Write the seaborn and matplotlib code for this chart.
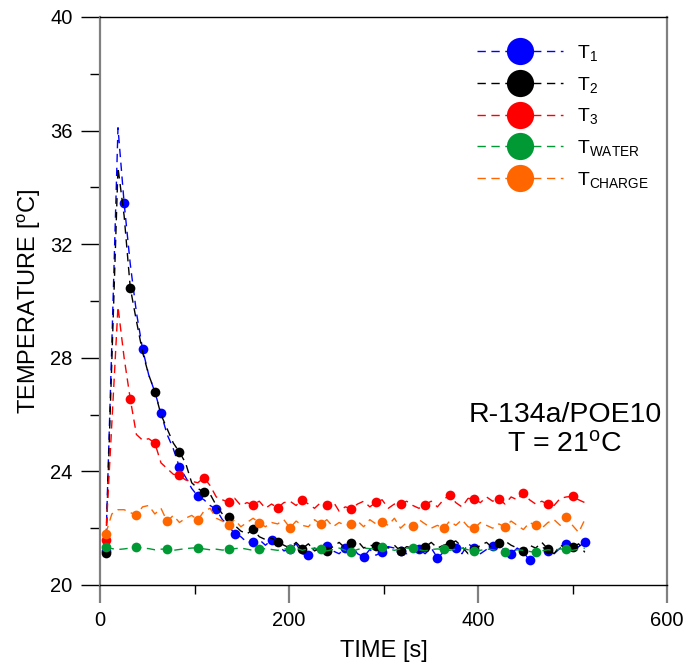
import numpy as np
import pandas as pd
import matplotlib
matplotlib.use("Agg")
import matplotlib.pyplot as plt
from matplotlib.ticker import MultipleLocator
import seaborn as sns

# ==========================================
# DATA
# ==========================================
TIME_S = [
    6.0, 12.5, 19.0, 25.5, 32.0, 38.5, 45.0, 51.5, 58.0, 64.5,
    71.0, 77.5, 84.0, 90.5, 97.0, 103.5, 110.0, 116.5, 123.0, 129.5,
    136.0, 142.5, 149.0, 155.5, 162.0, 168.5, 175.0, 181.5, 188.0, 194.5,
    201.0, 207.5, 214.0, 220.5, 227.0, 233.5, 240.0, 246.5, 253.0, 259.5,
    266.0, 272.5, 279.0, 285.5, 292.0, 298.5, 305.0, 311.5, 318.0, 324.5,
    331.0, 337.5, 344.0, 350.5, 357.0, 363.5, 370.0, 376.5, 383.0, 389.5,
    396.0, 402.5, 409.0, 415.5, 422.0, 428.5, 435.0, 441.5, 448.0, 454.5,
    461.0, 467.5, 474.0, 480.5, 487.0, 493.5, 500.0, 506.5, 513.0,
]

T1 = [
    21.20, 28.5, 36.1, 33.45, 31.3, 29.6, 28.31, 27.4, 26.8, 26.05,
    25.3, 24.8, 24.15, 23.8, 23.4, 23.13, 23.0, 22.8, 22.66, 22.3,
    22.1, 21.79, 21.7, 21.5, 21.52, 21.6, 21.4, 21.58, 21.45, 21.2,
    21.25, 21.45, 21.1, 21.04, 21.3, 21.15, 21.37, 21.2, 21.1, 21.3,
    21.4, 21.1, 20.99, 21.25, 21.05, 21.16, 21.35, 21.3, 21.2, 21.1,
    21.35, 21.26, 21.1, 21.3, 20.96, 21.15, 21.4, 21.31, 21.1, 21.45,
    21.3, 21.1, 21.25, 21.37, 21.45, 21.2, 21.09, 21.3, 21.15, 20.88,
    21.1, 21.35, 21.2, 21.1, 21.3, 21.45, 21.2, 21.35, 21.5,
]

T2 = [
    21.11, 27.9, 34.7, 33.0, 30.47, 29.3, 28.2, 27.4, 26.81, 26.0,
    25.5, 25.0, 24.68, 24.3, 23.6, 23.4, 23.26, 23.2, 22.8, 22.5,
    22.39, 22.1, 21.9, 21.8, 21.96, 21.7, 21.6, 21.65, 21.53, 21.4,
    21.3, 21.5, 21.28, 21.45, 21.2, 21.3, 21.2, 21.35, 21.5, 21.3,
    21.47, 21.55, 21.3, 21.4, 21.37, 21.5, 21.3, 21.4, 21.19, 21.35,
    21.3, 21.15, 21.33, 21.5, 21.3, 21.4, 21.46, 21.55, 21.35, 21.1,
    21.23, 21.4, 21.5, 21.3, 21.47, 21.55, 21.4, 21.3, 21.21, 21.4,
    21.3, 21.5, 21.26, 21.1, 21.4, 21.3, 21.32, 21.45, 21.15,
]

T3 = [
    21.6, 25.7, 29.8, 28.0, 26.55, 25.3, 25.1, 25.15, 25.0, 24.3,
    24.1, 23.9, 23.86, 23.7, 23.65, 23.6, 23.78, 23.5, 23.1, 23.0,
    22.91, 23.05, 22.8, 22.9, 22.82, 22.95, 22.7, 22.85, 22.72, 22.9,
    22.95, 22.8, 23.0, 22.85, 22.7, 22.9, 22.81, 22.95, 22.6, 22.75,
    22.69, 22.85, 22.95, 22.75, 22.91, 23.0, 22.7, 22.85, 22.84, 22.95,
    22.8, 22.7, 22.83, 22.95, 22.75, 23.0, 23.18, 22.9, 22.75, 23.05,
    23.03, 22.9, 23.1, 22.95, 23.04, 22.85, 23.1, 23.0, 23.25, 23.0,
    22.85, 22.95, 22.84, 22.8, 23.05, 23.1, 23.12, 23.0, 22.9,
]

T_WATER = [
    21.33, 21.28, 21.25, 21.27, 21.3, 21.34, 21.3, 21.28, 21.24, 21.26,
    21.27, 21.22, 21.25, 21.28, 21.3, 21.31, 21.27, 21.24, 21.26, 21.23,
    21.25, 21.28, 21.3, 21.26, 21.22, 21.25, 21.28, 21.25, 21.22, 21.27,
    21.25, 21.3, 21.22, 21.27, 21.3, 21.25, 21.2, 21.25, 21.3, 21.22,
    21.17, 21.25, 21.3, 21.28, 21.26, 21.32, 21.28, 21.22, 21.27, 21.3,
    21.29, 21.24, 21.2, 21.25, 21.27, 21.25, 21.22, 21.26, 21.3, 21.24,
    21.19, 21.22, 21.27, 21.24, 21.2, 21.15, 21.2, 21.24, 21.22, 21.18,
    21.15, 21.2, 21.24, 21.22, 21.27, 21.25, 21.22, 21.26, 21.3,
]

T_CHARGE = [
    21.8, 22.5, 22.65, 22.65, 22.55, 22.46, 22.75, 22.8, 22.5, 22.7,
    22.24, 22.45, 22.2, 22.35, 22.45, 22.29, 22.6, 22.7, 22.35, 22.25,
    22.1, 22.3, 22.05, 22.2, 22.35, 22.19, 22.05, 22.2, 22.15, 22.3,
    22.01, 22.25, 22.1, 22.05, 22.3, 22.13, 22.3, 22.05, 22.2, 22.1,
    22.14, 22.25, 22.05, 22.3, 22.15, 22.22, 22.1, 22.35, 22.0, 22.2,
    22.07, 22.3, 22.15, 22.0, 22.1, 21.99, 22.25, 22.1, 22.3, 22.05,
    21.99, 22.2, 22.1, 22.0, 22.15, 22.05, 22.25, 22.1, 21.95, 22.2,
    22.1, 22.0, 22.2, 22.3, 22.1, 22.39, 22.1, 21.85, 22.3,
]

SERIES_LABELS = ["T$_1$", "T$_2$", "T$_3$", "T$_{WATER}$", "T$_{CHARGE}$"]
SERIES_VALUES = [T1, T2, T3, T_WATER, T_CHARGE]
SERIES_COLORS = ["#0000ff", "#000000", "#ff0000", "#009933", "#ff6600"]
MARK_EVERY = [3, 4, 4, 5, 5]   # symbols shown on every n-th sample

# ==========================================
# STYLE
# ==========================================
sns.set_theme(style="ticks")
plt.rcParams["font.family"] = ["Liberation Sans", "DejaVu Sans"]
plt.rcParams["mathtext.fontset"] = "custom"
plt.rcParams["mathtext.rm"] = "Liberation Sans"
plt.rcParams["mathtext.it"] = "Liberation Sans"
plt.rcParams["mathtext.default"] = "regular"
for key in ["text.color", "axes.labelcolor", "xtick.labelcolor", "ytick.labelcolor"]:
    plt.rcParams[key] = "black"

fig = plt.figure(figsize=(6.87, 6.64), dpi=100)
ax = fig.add_axes([0.1456, 0.119, 0.8253, 0.8554])

for label, vals, color, me in zip(SERIES_LABELS, SERIES_VALUES, SERIES_COLORS, MARK_EVERY):
    df = pd.DataFrame({"time": TIME_S, "temp": vals})
    sns.lineplot(data=df, x="time", y="temp", ax=ax, color=color,
                 linestyle=(0, (6, 4)), linewidth=1.0,
                 marker="o", markersize=7, markeredgewidth=0,
                 markevery=me, label=label, estimator=None, sort=False)

ax.set_xlim(0, 600)
ax.set_ylim(20, 40)
ax.xaxis.set_major_locator(MultipleLocator(200))
ax.xaxis.set_minor_locator(MultipleLocator(100))
ax.yaxis.set_major_locator(MultipleLocator(4))
ax.yaxis.set_minor_locator(MultipleLocator(2))

ax.tick_params(axis="x", which="major", direction="out", length=13, width=1.6,
               color="#808080", pad=6, labelsize=14.5, labelcolor="black", bottom=True)
ax.tick_params(axis="x", which="minor", direction="out", length=6.5, width=1.0,
               color="black", bottom=True)
ax.tick_params(axis="y", which="major", direction="out", length=13.7, width=1.0,
               color="black", pad=6, labelsize=14.5, labelcolor="black", left=True)
ax.tick_params(axis="y", which="minor", direction="out", length=7, width=1.0,
               color="black", left=True)

for side in ["left", "right"]:
    ax.spines[side].set_color("#808080")
    ax.spines[side].set_linewidth(1.6)
for side in ["top", "bottom"]:
    ax.spines[side].set_color("black")
    ax.spines[side].set_linewidth(1.0)

ax.set_xlabel("TIME [s]", fontsize=17, labelpad=7, color="black")
ax.set_ylabel("TEMPERATURE [$^{o}$C]", fontsize=17, labelpad=5, color="black")

ax.text(0.82, 0.273, "R-134a/POE10\nT = 21$^{o}$C", transform=ax.transAxes,
        ha="center", va="center", fontsize=20.5, linespacing=1.2, color="black")

handles, labels = ax.get_legend_handles_labels()
leg = ax.legend(handles, labels, loc="upper left", bbox_to_anchor=(0.665, 0.954),
                frameon=False, markerscale=2.8, handlelength=4.4, handletextpad=0.75,
                labelspacing=0.6, fontsize=14, borderaxespad=0, borderpad=0)
for txt in leg.get_texts():
    txt.set_color("black")

fig.savefig("out.png", dpi=100)
